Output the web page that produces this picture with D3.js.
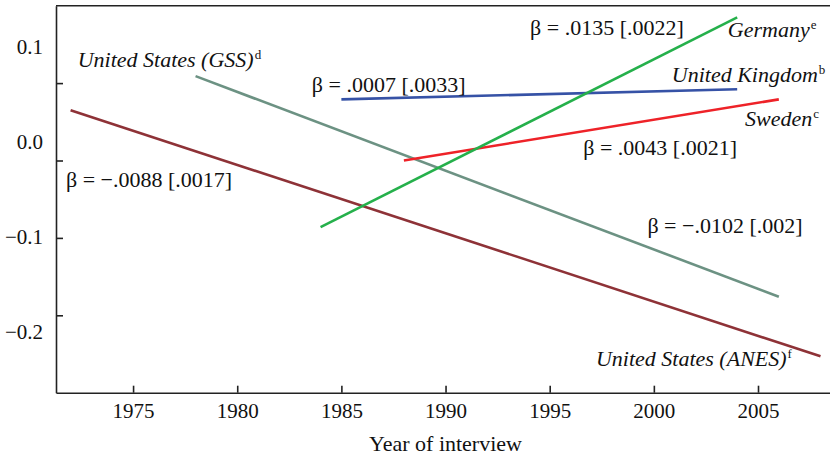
<!DOCTYPE html>
<html lang="en">
<head>
    <meta charset="UTF-8">
    <title>Trends by year of interview</title>
    <script src="https://d3js.org/d3.v7.min.js"></script>
    <style>
        body { margin: 0; background: #fff; }
        svg, svg text, .axis { font-family: "Liberation Serif", "Times New Roman", "DejaVu Serif", serif; }
        .axis text { font-size: 21px; fill: #111; }
        .axis path, .axis line { stroke: #222; stroke-width: 1.6; }
        .ann { font-size: 22px; fill: #111; }
        .name { font-style: italic; }
    </style>
</head>
<body>
    <script>
        // series: name, start/end year, start/end value
        const seriesNames  = ["United States (ANES)", "United States (GSS)", "United Kingdom", "Sweden", "Germany"];
        const startYears   = [1972, 1978, 1985, 1988, 1984];
        const endYears     = [2008, 2006, 2004, 2006, 2004];
        const startValues  = [0.065, 0.109, 0.079, 0.000, -0.086];
        const endValues    = [-0.253, -0.176, 0.092, 0.079, 0.185];
        const seriesColors = ["#8e3237", "#6c9283", "#3652a6", "#ee2228", "#25b04b"];

        const xTicks = [1975, 1980, 1985, 1990, 1995, 2000, 2005];
        const yTicks = [0.1, 0.0, -0.1, -0.2];
        const yTickLabels = ["0.1", "0.0", "\u22120.1", "\u22120.2"];
        const xTitle = "Year of interview";

        // annotations anchored in data space (year, value)
        const annTexts = [
            "\u03b2 = .0135 [.0022]", "\u03b2 = .0043 [.0021]", "\u03b2 = .0007 [.0033]",
            "\u03b2 = \u2212.0088 [.0017]", "\u03b2 = \u2212.0102 [.002]"
        ];
        const annYears  = [1994.06, 1996.61, 1983.58, 1971.78, 1999.69];
        const annValues = [0.162, 0.007, 0.089, -0.034, -0.094];

        const nameTexts = ["Germany", "United Kingdom", "Sweden", "United States (GSS)", "United States (ANES)"];
        const nameSups  = ["e", "b", "c", "d", "f"];
        const nameYears = [2003.55, 2000.86, 2004.38, 1972.34, 1997.22];
        const nameValues = [0.160, 0.102, 0.044, 0.121, -0.266];

        const width = 830, height = 455;
        const svg = d3.select("body").append("svg")
            .attr("width", width)
            .attr("height", height);

        const x = d3.scaleLinear().domain([1971.3, 2008.6]).range([56, 833]);
        const y = d3.scaleLinear().domain([-0.3, 0.2]).range([392.7, 5.7]);
        // the y labels sit a little apart from their ticks in the original
        const yLab = d3.scaleLinear().domain([0.1, -0.2]).range([47, 332]);

        // top frame line
        svg.append("line")
            .attr("x1", x.range()[0]).attr("x2", x.range()[1])
            .attr("y1", y(0.2)).attr("y2", y(0.2))
            .attr("stroke", "#222").attr("stroke-width", 1.6);

        svg.append("g")
            .attr("class", "axis")
            .attr("transform", `translate(0,${y(-0.3)})`)
            .call(d3.axisBottom(x).tickValues(xTicks).tickFormat(d3.format("d"))
                .tickSize(-7).tickSizeOuter(0).tickPadding(10));

        svg.append("g")
            .attr("class", "axis")
            .attr("transform", `translate(${x(1971.3)},0)`)
            .call(d3.axisLeft(y).tickValues(yTicks).tickFormat("")
                .tickSize(-7).tickSizeOuter(0));

        svg.append("g")
            .attr("class", "axis")
            .selectAll("text")
            .data(yTicks)
            .enter().append("text")
            .attr("x", x(1971.3) - 13)
            .attr("y", d => yLab(d))
            .attr("dy", "0.35em")
            .attr("text-anchor", "end")
            .text((d, i) => yTickLabels[i]);

        svg.append("text")
            .attr("class", "ann")
            .attr("x", (x.range()[0] + 835) / 2)
            .attr("y", 451)
            .attr("text-anchor", "middle")
            .text(xTitle);

        // trend lines
        const lines = seriesNames.map((n, i) => ({
            name: n, color: seriesColors[i],
            pts: [[startYears[i], startValues[i]], [endYears[i], endValues[i]]]
        }));
        const lineGen = d3.line().x(d => x(d[0])).y(d => y(d[1]));
        svg.append("g")
            .selectAll("path")
            .data(lines)
            .enter().append("path")
            .attr("d", d => lineGen(d.pts))
            .attr("fill", "none")
            .attr("stroke", d => d.color)
            .attr("stroke-width", 2.6);

        // beta annotations
        svg.append("g")
            .selectAll("text")
            .data(annTexts)
            .enter().append("text")
            .attr("class", "ann")
            .attr("x", (d, i) => x(annYears[i]))
            .attr("y", (d, i) => y(annValues[i]))
            .text(d => d);

        // series names with superscripts
        const names = svg.append("g")
            .selectAll("text")
            .data(nameTexts)
            .enter().append("text")
            .attr("class", "ann")
            .attr("x", (d, i) => x(nameYears[i]))
            .attr("y", (d, i) => y(nameValues[i]));
        names.append("tspan").attr("class", "name").text(d => d);
        names.append("tspan")
            .attr("dx", 1)
            .attr("dy", -8)
            .style("font-size", "13px")
            .text((d, i) => nameSups[i]);
    </script>
</body>
</html>
